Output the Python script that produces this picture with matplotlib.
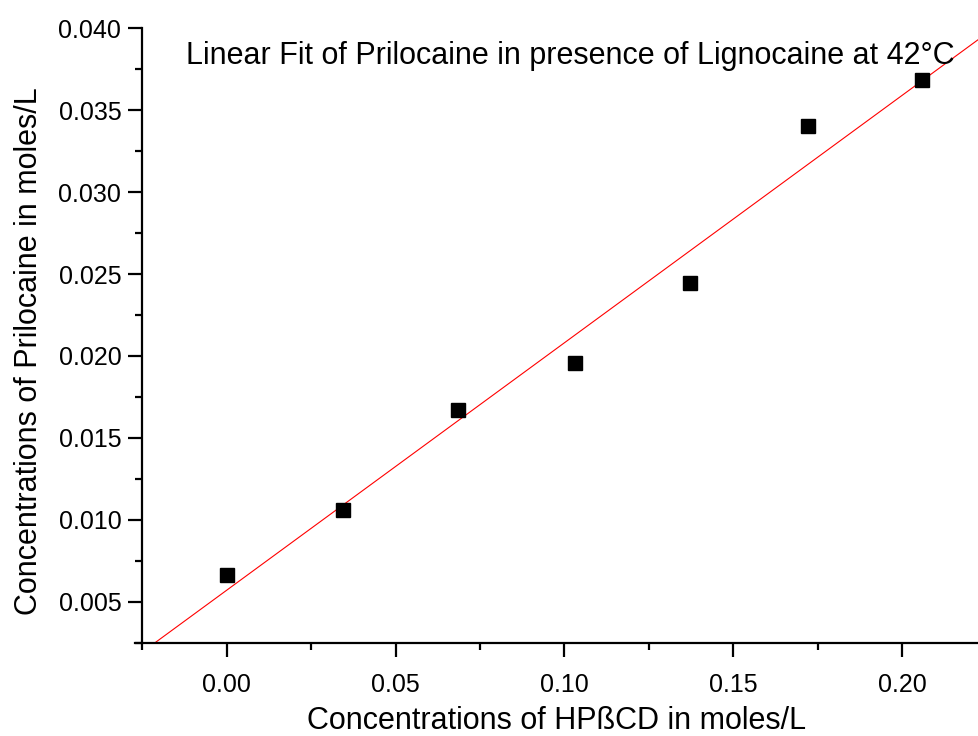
# plot.py
# Linear fit of prilocaine vs HPbCD concentration
import matplotlib
matplotlib.use("Agg")
import matplotlib.pyplot as plt
from matplotlib.ticker import MultipleLocator
import numpy as np

plt.rcParams['font.family'] = ['Liberation Sans', 'DejaVu Sans']

hpbcd = [0.0, 0.0345, 0.0685, 0.1031, 0.1372, 0.1720, 0.2058]
prilocaine = [0.00666, 0.01058, 0.0167, 0.01958, 0.02447, 0.03402, 0.03684]

title = "Linear Fit of Prilocaine in presence of Lignocaine at 42°C"
xlabel = "Concentrations of HPßCD in moles/L"
ylabel = "Concentrations of Prilocaine in moles/L"


def main():
    fig = plt.figure(figsize=(9.79, 7.36), dpi=100)
    ax = fig.add_axes([0.138, 0.1268, 0.862, 0.8347])

    slope, icept = np.polyfit(hpbcd, prilocaine, 1)
    xs = np.array([-0.03, 0.23])
    ax.plot(xs, slope * xs + icept, color='red', lw=0.8)
    ax.plot(hpbcd, prilocaine, 's', color='black', ms=9.5, clip_on=False)

    ax.set_xlim(-0.0271, 0.2227)
    ax.set_ylim(0.0025, 0.040)
    ax.spines['left'].set_position(('data', -0.025))
    ax.spines['top'].set_visible(False)
    ax.spines['right'].set_visible(False)
    for s in ('left', 'bottom'):
        ax.spines[s].set_linewidth(1.6)

    ax.xaxis.set_minor_locator(MultipleLocator(0.025))
    ax.yaxis.set_minor_locator(MultipleLocator(0.0025))
    ax.set_xticks([0.0, 0.05, 0.10, 0.15, 0.20])
    ax.set_xticklabels(["0.00", "0.05", "0.10", "0.15", "0.20"])
    yt = np.arange(0.005, 0.0401, 0.005)
    ax.set_yticks(yt)
    ax.set_yticklabels(["%.3f" % v for v in yt])
    ax.tick_params(which='major', length=10, width=1.6, labelsize=18, pad=5)
    ax.tick_params(which='minor', length=5, width=1.6)
    ax.tick_params(axis='x', pad=12)

    ax.set_xlabel(xlabel, fontsize=22, labelpad=6)
    ax.set_ylabel(ylabel, fontsize=22)
    ax.yaxis.set_label_coords(-0.108, 0.474)
    ax.text(0.06, 0.955, title, transform=ax.transAxes, fontsize=22,
            ha='left', va='center')

    fig.savefig("out.png", dpi=100)


main()
